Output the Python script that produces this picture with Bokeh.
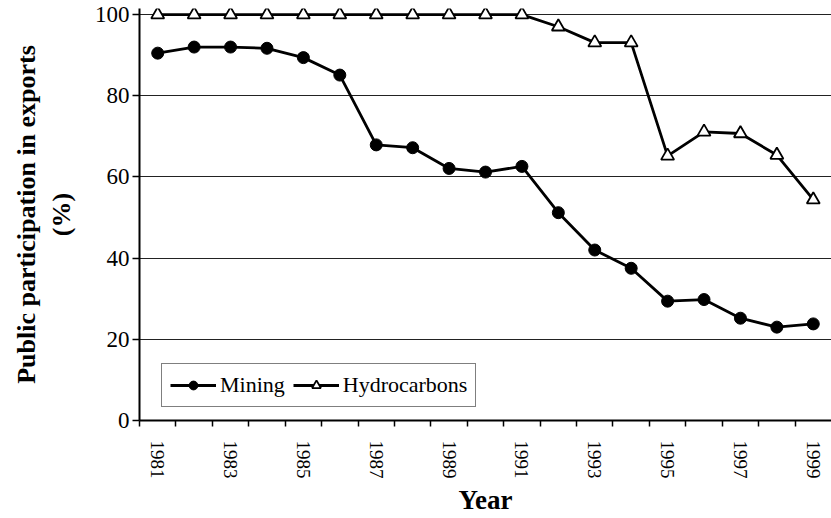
from bokeh.plotting import figure
from bokeh.models import FixedTicker, Range1d, Legend, LegendItem
from bokeh.embed import file_html
from bokeh.resources import INLINE

years = list(range(1981, 2000))
mining = [90.5, 92.0, 92.0, 91.7, 89.4, 85.1, 67.9, 67.2, 62.1, 61.2, 62.6,
          51.2, 42.0, 37.5, 29.4, 29.8, 25.2, 23.0, 23.8]
hydrocarbons = [100, 100, 100, 100, 100, 100, 100, 100, 100, 100, 100,
                97.0, 93.1, 93.1, 65.2, 71.1, 70.7, 65.4, 54.4]
y_ticks = [0, 20, 40, 60, 80, 100]
x_label_years = [y for y in years if y % 2 == 1]

FONT = "'Liberation Serif', 'Times New Roman', serif"

p = figure(width=831, height=518, output_backend="svg", toolbar_location=None,
           x_range=Range1d(1980.5, 1999.5), y_range=Range1d(0, 101.5),
           min_border_left=139, min_border_right=0, min_border_top=8,
           min_border_bottom=98)
p.outline_line_color = None
p.background_fill_color = "white"

# grid
p.xgrid.visible = False
p.ygrid.ticker = FixedTicker(ticks=y_ticks)
p.ygrid.grid_line_color = "#222222"
p.ygrid.grid_line_width = 1

# y axis
p.yaxis.ticker = FixedTicker(ticks=y_ticks)
p.yaxis.axis_line_width = 2
p.yaxis.axis_line_color = "black"
p.yaxis.major_tick_out = 7
p.yaxis.major_tick_in = 0
p.yaxis.major_tick_line_width = 1.5
p.yaxis.minor_tick_line_color = None
p.yaxis.major_label_text_font = FONT
p.yaxis.major_label_text_font_size = "23px"
p.yaxis.major_label_text_color = "black"
p.yaxis.major_label_standoff = 3
p.yaxis.axis_label = "Public participation in exports\n(%)"
p.yaxis.axis_label_text_font = FONT
p.yaxis.axis_label_text_font_style = "bold"
p.yaxis.axis_label_text_font_size = "26px"
p.yaxis.axis_label_text_color = "black"
p.yaxis.axis_label_standoff = 16

# x axis
half_ticks = [y - 0.5 for y in years]
p.xaxis.ticker = FixedTicker(ticks=x_label_years, minor_ticks=half_ticks)
p.xaxis.axis_line_width = 2
p.xaxis.axis_line_color = "black"
p.xaxis.major_tick_line_color = None
p.xaxis.major_tick_out = 0
p.xaxis.major_tick_in = 0
p.xaxis.minor_tick_out = 6
p.xaxis.minor_tick_in = 0
p.xaxis.minor_tick_line_width = 1.5
p.xaxis.minor_tick_line_color = "black"
p.xaxis.major_label_orientation = "vertical"
p.xaxis.major_label_text_font = FONT
p.xaxis.major_label_text_font_size = "19px"
p.xaxis.major_label_text_color = "black"
p.xaxis.major_label_standoff = 14
p.xaxis.axis_label = "Year"
p.xaxis.axis_label_text_font = FONT
p.xaxis.axis_label_text_font_style = "bold"
p.xaxis.axis_label_text_font_size = "27px"
p.xaxis.axis_label_text_color = "black"
p.xaxis.axis_label_standoff = 3

# series
ml = p.line(years, mining, line_color="black", line_width=2.8)
ms = p.scatter(years, mining, marker="circle", size=12, fill_color="black",
               line_color="black")
hl = p.line(years, hydrocarbons, line_color="black", line_width=2.8)
hs = p.scatter(years, hydrocarbons, marker="triangle", size=13, fill_color="white",
               line_color="black", line_width=1.8)

legend = Legend(items=[LegendItem(label="Mining", renderers=[ml, ms]),
                       LegendItem(label="Hydrocarbons", renderers=[hl, hs])],
                location=(22, 13), orientation="horizontal",
                label_text_font=FONT, label_text_font_size="22px",
                label_text_color="black",
                border_line_color="black", border_line_width=1,
                background_fill_color="white", background_fill_alpha=1,
                glyph_width=46, glyph_height=22, spacing=8, padding=8,
                label_standoff=4, margin=0)
p.add_layout(legend, "center")

open("out.html", "w").write(file_html(p, INLINE))
